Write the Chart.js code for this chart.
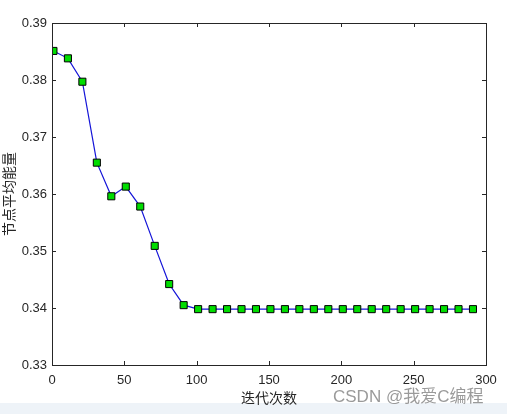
<!DOCTYPE html>
<html>
<head>
<meta charset="utf-8">
<script src="https://cdn.jsdelivr.net/npm/chart.js@4"></script>
<style>
  html, body { margin: 0; padding: 0; background: #fff; }
  #wrap { width: 507px; height: 414px; position: relative; }
</style>
</head>
<body>
<div id="wrap"><canvas id="energyChart" width="507" height="414"></canvas></div>
<script>
// iterations and average node energy
const iters = [1, 11, 21, 31, 41, 51, 61, 71, 81, 91, 101, 111, 121, 131, 141,
               151, 161, 171, 181, 191, 201, 211, 221, 231, 241, 251, 261, 271, 281, 291];
const energy = [0.3851, 0.3838, 0.3797, 0.3655, 0.3596, 0.3613, 0.3578, 0.3509, 0.3442, 0.3405,
                0.3398, 0.3398, 0.3398, 0.3398, 0.3398, 0.3398, 0.3398, 0.3398, 0.3398, 0.3398,
                0.3398, 0.3398, 0.3398, 0.3398, 0.3398, 0.3398, 0.3398, 0.3398, 0.3398, 0.3398];
const xTicks = [0, 50, 100, 150, 200, 250, 300];
const yTicks = [0.33, 0.34, 0.35, 0.36, 0.37, 0.38, 0.39];

const axisColor = '#262626';

// box around the plot with inward ticks on every side, plus the page strip and watermark
const boxPlugin = {
    id: 'box',
    beforeDraw(chart) {
        const c = chart.ctx;
        c.save();
        c.fillStyle = '#eef3f8';
        c.fillRect(0, 403, chart.width, chart.height - 403);
        c.restore();
    },
    afterDraw(chart) {
        const c = chart.ctx;
        const a = chart.chartArea;
        const xs = chart.scales.x, ys = chart.scales.y;
        c.save();
        c.strokeStyle = axisColor;
        c.lineWidth = 1;
        c.strokeRect(Math.round(a.left) + 0.5, Math.round(a.top) + 0.5,
                     Math.round(a.right - a.left), Math.round(a.bottom - a.top));
        c.beginPath();
        xTicks.forEach(v => {
            const px = Math.round(xs.getPixelForValue(v)) + 0.5;
            c.moveTo(px, a.bottom); c.lineTo(px, a.bottom - 4);
            c.moveTo(px, a.top); c.lineTo(px, a.top + 4);
        });
        yTicks.forEach(v => {
            const py = Math.round(ys.getPixelForValue(v)) + 0.5;
            c.moveTo(a.left, py); c.lineTo(a.left + 4, py);
            c.moveTo(a.right, py); c.lineTo(a.right - 4, py);
        });
        c.stroke();

        c.fillStyle = '#9a9a9a';
        c.font = '17px "Liberation Sans", "Noto Sans CJK SC", sans-serif';
        c.textBaseline = 'middle';
        c.fillText('CSDN @我爱C编程', 333, 397);
        c.restore();
    }
};

const ctx = document.getElementById('energyChart').getContext('2d');

const energyChart = new Chart(ctx, {
    type: 'line',
    data: {
        datasets: [{
            data: iters.map((x, i) => ({ x: x, y: energy[i] })),
            borderColor: '#1414d8',
            borderWidth: 1.2,
            backgroundColor: '#00dd00',
            pointStyle: 'rect',
            pointRadius: 5,
            pointBorderColor: '#000',
            pointBorderWidth: 1,
            tension: 0,
            fill: false
        }]
    },
    options: {
        responsive: false,
        animation: false,
        layout: { padding: { left: 0, right: 21, top: 23, bottom: 0 } },
        plugins: {
            legend: { display: false },
            tooltip: { enabled: false }
        },
        scales: {
            x: {
                type: 'linear',
                min: 0,
                max: 300,
                afterBuildTicks: s => { s.ticks = xTicks.map(v => ({ value: v })); },
                afterFit: s => { s.height = 49; },
                grid: { display: false, drawTicks: false },
                border: { display: false },
                ticks: {
                    color: axisColor,
                    font: { family: '"Liberation Sans", Arial, sans-serif', size: 13 },
                    padding: 8,
                    maxRotation: 0
                },
                title: {
                    display: true,
                    text: '迭代次数',
                    color: axisColor,
                    font: { family: '"Noto Sans CJK SC", sans-serif', size: 14 },
                    padding: { top: 0, bottom: 8 }
                }
            },
            y: {
                min: 0.33,
                max: 0.39,
                afterBuildTicks: s => { s.ticks = yTicks.map(v => ({ value: v })); },
                afterFit: s => { s.width = 52; },
                grid: { display: false, drawTicks: false },
                border: { display: false },
                ticks: {
                    color: axisColor,
                    font: { family: '"Liberation Sans", Arial, sans-serif', size: 13 },
                    padding: 5,
                    callback: v => v.toFixed(2)
                },
                title: {
                    display: true,
                    text: '节点平均能量',
                    color: axisColor,
                    font: { family: '"Noto Sans CJK SC", sans-serif', size: 14 },
                    padding: { top: 0, bottom: 0 }
                }
            }
        }
    },
    plugins: [boxPlugin]
});
</script>
</body>
</html>
